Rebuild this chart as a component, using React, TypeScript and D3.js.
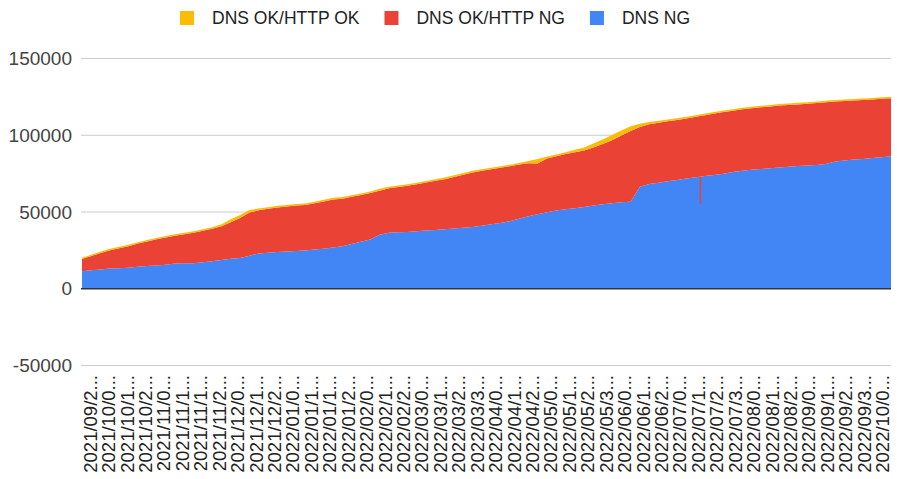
import React, { useEffect, useRef } from "react";
import * as d3 from "d3";

// x axis labels as shown (truncated by the chart)
const xLabels = [
  "2021/09/2", "2021/10/0", "2021/10/1", "2021/10/2", "2021/11/0", "2021/11/1",
  "2021/11/1", "2021/11/2", "2021/12/0", "2021/12/1", "2021/12/2", "2022/01/0",
  "2022/01/1", "2022/01/1", "2022/01/2", "2022/02/0", "2022/02/1", "2022/02/2",
  "2022/03/0", "2022/03/1", "2022/03/2", "2022/03/3", "2022/04/0", "2022/04/1",
  "2022/04/2", "2022/05/0", "2022/05/1", "2022/05/2", "2022/05/3", "2022/06/0",
  "2022/06/1", "2022/06/2", "2022/07/0", "2022/07/1", "2022/07/2", "2022/07/3",
  "2022/08/0", "2022/08/1", "2022/08/2", "2022/09/0", "2022/09/1", "2022/09/2",
  "2022/09/3", "2022/10/0",
];

// series values
const dnsNg = [
  11400, 12100, 12600, 13200, 13400, 13700, 14300, 14900, 15200, 15700,
  16400, 16600, 16600, 17200, 17900, 18700, 19500, 20100, 21500, 23000,
  23500, 23900, 24200, 24600, 25000, 25600, 26100, 26900, 27700, 29100,
  30600, 32100, 35200, 36500, 36800, 37000, 37400, 37900, 38300, 38700,
  39300, 39800, 40300, 41100, 42000, 42800, 43900, 45600, 47300, 48600,
  49800, 51000, 51800, 52500, 53300, 54200, 55000, 55700, 56300, 56700,
  66500, 68200, 69100, 70000, 70900, 71900, 72600, 73400, 74100, 75000,
  76000, 76800, 77500, 78000, 78500, 79000, 79400, 79900, 80300, 80700,
  81200, 82900, 83500, 84200, 84600, 85200, 85600, 86400,
];

const httpNg = [
  7950, 9250, 10750, 11950, 13000, 14000, 15100, 15900, 17000, 17700,
  18150, 18950, 19950, 20600, 21200, 22000, 23900, 26000, 28200, 28100,
  28600, 29100, 29400, 29600, 29600, 30100, 30800, 31300, 31000, 30800,
  30500, 30200, 28700, 28900, 29500, 30100, 30700, 31300, 32000, 32700,
  33500, 34500, 35500, 35800, 35900, 36000, 35900, 35400, 34500, 33000,
  35100, 35300, 36000, 36500, 36800, 37900, 39300, 41100, 43500, 46100,
  38800, 38900, 39100, 39100, 39000, 39000, 39400, 39700, 40100, 40100,
  40000, 40100, 40100, 40200, 40200, 40300, 40300, 40200, 40200, 40300,
  40300, 39100, 38800, 38400, 38400, 38100, 38100, 37700,
];

const httpOk = [
  850, 850, 850, 850, 900, 900, 900, 900, 900, 900,
  950, 950, 950, 1000, 1000, 1300, 1800, 2000, 1600, 1100,
  1000, 1000, 1000, 1000, 1000, 1000, 1000, 1100, 1000, 1000,
  1000, 1100, 1200, 1100, 1000, 1000, 1000, 1000, 1000, 1100,
  1100, 1100, 1100, 1000, 1000, 1000, 1000, 1000, 1500, 3000,
  1200, 1100, 1200, 1600, 2000, 2600, 3000, 3300, 3300, 3000,
  2200, 1500, 1200, 1100, 1100, 1100, 1100, 1100, 1000, 1000,
  1000, 1000, 1000, 1000, 1000, 1000, 1000, 1000, 1000, 1000,
  1000, 1000, 1000, 1000, 1000, 1000, 1000, 1000,
];

// one-day dip of DNS NG (thin red streak in the blue area)
const dipDay = [66.5];
const dipDnsNg = [55500];

const seriesNames = ["DNS OK/HTTP OK", "DNS OK/HTTP NG", "DNS NG"];
const seriesColors = ["#fbbc04", "#ea4335", "#4285f4"];
const yTicks = [-50000, 0, 50000, 100000, 150000];

const FONT = "Arial, 'Liberation Sans', Helvetica, sans-serif";

export default function App() {
  const chartRef = useRef<SVGSVGElement>(null);

  useEffect(() => {
    const svg = d3.select(chartRef.current);
    svg.selectAll("*").remove();

    const left = 82;
    const right = 891;
    const top = 58.5;
    const bottom = 365.5;

    const x = d3.scaleLinear().domain([0, dnsNg.length - 1]).range([left, right]);
    const y = d3.scaleLinear().domain([-50000, 150000]).range([bottom, top]);
    const xLab = d3
      .scalePoint<number>()
      .domain(d3.range(xLabels.length))
      .range([left, right])
      .padding(0.45);

    const rows = dnsNg.map((v, i) => ({
      i,
      dnsNg: v,
      httpNg: httpNg[i],
      httpOk: httpOk[i],
    }));

    // gridlines
    svg
      .append("g")
      .selectAll("line")
      .data(yTicks.filter((t) => t !== 0))
      .enter()
      .append("line")
      .attr("x1", left - 1)
      .attr("x2", right)
      .attr("y1", (d) => y(d))
      .attr("y2", (d) => y(d))
      .attr("stroke", "#cccccc")
      .attr("stroke-width", 1);

    // y labels
    svg
      .append("g")
      .selectAll("text")
      .data(yTicks)
      .enter()
      .append("text")
      .attr("x", 72)
      .attr("y", (d) => y(d))
      .attr("dy", "0.35em")
      .attr("text-anchor", "end")
      .attr("font-family", FONT)
      .attr("font-size", 19)
      .attr("fill", "#444")
      .text((d) => String(d));

    // stacked areas
    const stack = d3.stack<any>().keys(["dnsNg", "httpNg", "httpOk"]);
    const layers = stack(rows);
    const area = d3
      .area<any>()
      .x((d) => x(d.data.i))
      .y0((d) => y(d[0]))
      .y1((d) => y(d[1]));

    const layerColor = [seriesColors[2], seriesColors[1], seriesColors[0]];
    svg
      .append("g")
      .selectAll("path")
      .data(layers)
      .enter()
      .append("path")
      .attr("fill", (d, i) => layerColor[i])
      .attr("d", area);

    // dips
    svg
      .append("g")
      .selectAll("line")
      .data(dipDay)
      .enter()
      .append("line")
      .attr("x1", (d) => x(d))
      .attr("x2", (d) => x(d))
      .attr("y1", (d, i) => y(dipDnsNg[i]))
      .attr("y2", (d) => {
        const a = dnsNg[Math.floor(d)];
        const b = dnsNg[Math.ceil(d)];
        return y(a + (b - a) * (d - Math.floor(d)));
      })
      .attr("stroke", seriesColors[1])
      .attr("stroke-width", 1.5);

    // baseline
    svg
      .append("line")
      .attr("x1", left - 1)
      .attr("x2", right)
      .attr("y1", y(0))
      .attr("y2", y(0))
      .attr("stroke", "#333")
      .attr("stroke-width", 1.5);

    // x labels
    svg
      .append("g")
      .selectAll("text")
      .data(xLabels)
      .enter()
      .append("text")
      .attr("transform", (d, i) => `translate(${xLab(i)},375) rotate(-90)`)
      .attr("dy", "0.35em")
      .attr("text-anchor", "end")
      .attr("font-family", FONT)
      .attr("font-size", 18.5)
      .attr("fill", "#222")
      .text((d) => d + "...");

    // legend
    const legend = svg.append("g");
    let cx = 180;
    seriesNames.forEach((name, i) => {
      legend
        .append("rect")
        .attr("x", cx)
        .attr("y", 11)
        .attr("width", 14)
        .attr("height", 14)
        .attr("fill", seriesColors[i]);
      const t = legend
        .append("text")
        .attr("x", cx + 32)
        .attr("y", 18)
        .attr("dy", "0.35em")
        .attr("font-family", FONT)
        .attr("font-size", 17.5)
        .attr("fill", "#222")
        .text(name);
      const w = (t.node() as SVGTextElement).getComputedTextLength();
      cx = cx + 32 + w + 25;
    });
  }, []);

  return (
    <svg
      ref={chartRef}
      width={897}
      height={479}
      style={{ position: "absolute", left: 0, top: 0, background: "#fff" }}
    ></svg>
  );
}
